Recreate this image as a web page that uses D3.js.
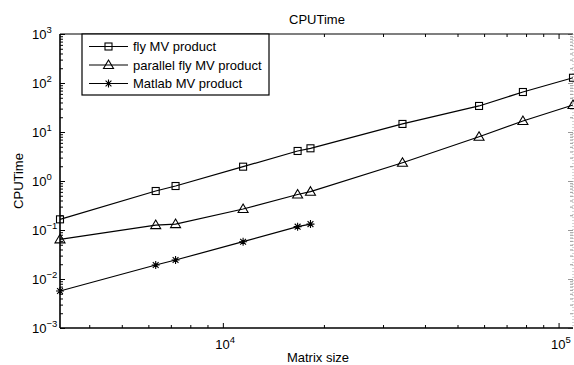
<!DOCTYPE html>
<html lang="en">
<head>
<meta charset="utf-8">
<title>CPUTime</title>
<script src="https://d3js.org/d3.v7.min.js"></script>
<style>
  body { margin: 0; background: #fff; }
  text { font-family: "Liberation Sans", Arial, sans-serif; fill: #000; }
</style>
</head>
<body>
<script>
// matrix sizes (shared by all series)
var sizes = [3273, 6310, 7230, 11490, 16700, 18240, 34280, 57960, 78300, 110400];
var flyTime = [0.165, 0.625, 0.79, 1.96, 4.1, 4.65, 14.6, 34, 65.5, 128];
var parallelTime = [0.0645, 0.126, 0.132, 0.268, 0.53, 0.605, 2.36, 8.0, 16.8, 35.6];
var matlabTime = [0.00569, 0.0193, 0.0244, 0.0577, 0.117, 0.132];
var seriesNames = ["fly MV product", "parallel fly MV product", "Matlab MV product"];
var yTickExp = [-3, -2, -1, 0, 1, 2, 3];
var xTickExp = [4, 5];

var w = 574, h = 365;
var pl = 60, pr = 573, pt = 34, pb = 328;

var svg = d3.select("body").append("svg")
  .attr("width", w).attr("height", h);

var x = d3.scaleLog().domain([3273, 110400]).range([pl, pr]);
var y = d3.scaleLog().domain([1e-3, 1e3]).range([pb, pt]);

// minor tick values
var xMinor = [], yMinor = [];
for (var e = 3; e <= 5; e++) for (var k = 2; k <= 9; k++) {
  var v = k * Math.pow(10, e);
  if (v > 3273 && v < 110400) xMinor.push(v);
}
for (var e2 = -3; e2 < 3; e2++) for (var k2 = 2; k2 <= 9; k2++) yMinor.push(k2 * Math.pow(10, e2));
var xMajor = xTickExp.map(function(d){ return Math.pow(10, d); });
var yMajor = yTickExp.map(function(d){ return Math.pow(10, d); });

function tickAxis(axisFn, scale, vals, size, tr, col) {
  var g = svg.append("g").attr("transform", tr)
    .call(axisFn(scale).tickValues(vals).tickSize(size).tickFormat(""));
  g.select(".domain").remove();
  g.selectAll("line").attr("stroke", col || "#000").attr("stroke-width", 1);
  return g;
}
// bottom / top
tickAxis(d3.axisBottom, x, xMajor, -5, "translate(0," + pb + ")");
tickAxis(d3.axisBottom, x, xMinor, -3, "translate(0," + pb + ")");
tickAxis(d3.axisTop, x, xMajor, -5, "translate(0," + pt + ")");
tickAxis(d3.axisTop, x, xMinor, -3, "translate(0," + pt + ")");
// left / right
tickAxis(d3.axisLeft, y, yMajor, -5, "translate(" + pl + ",0)");
tickAxis(d3.axisLeft, y, yMinor, -3, "translate(" + pl + ",0)");
tickAxis(d3.axisRight, y, yMajor, -5, "translate(" + pr + ",0)", "#999");
tickAxis(d3.axisRight, y, yMinor, -3, "translate(" + pr + ",0)", "#999");

// frame
svg.append("line").attr("x1", pl).attr("x2", pr).attr("y1", pb).attr("y2", pb)
  .attr("stroke", "#000").attr("stroke-width", 1.6);
svg.append("line").attr("x1", pl).attr("x2", pl).attr("y1", pt).attr("y2", pb)
  .attr("stroke", "#000").attr("stroke-width", 1.6);
svg.append("line").attr("x1", pl).attr("x2", pr).attr("y1", pt).attr("y2", pt)
  .attr("stroke", "#000").attr("stroke-width", 1.2);
svg.append("line").attr("x1", pr).attr("x2", pr).attr("y1", pt).attr("y2", pb)
  .attr("stroke", "#aaa").attr("stroke-width", 1).attr("stroke-dasharray", "1,2");

// tick labels
yTickExp.forEach(function(p) {
  var t = svg.append("text").attr("x", 32).attr("y", y(Math.pow(10, p)) + 5)
    .style("font-size", "13px");
  t.append("tspan").text("10");
  t.append("tspan").attr("dy", -6.5).style("font-size", "9.5px").text(String(p).replace("-", "\u2212"));
});
xTickExp.forEach(function(p) {
  var t = svg.append("text").attr("x", x(Math.pow(10, p)) - 7.5).attr("y", 349)
    .style("font-size", "13px");
  t.append("tspan").text("10");
  t.append("tspan").attr("dy", -6.5).style("font-size", "9.5px").text(p);
});

// titles
svg.append("text").attr("x", 317).attr("y", 24).attr("text-anchor", "middle")
  .style("font-size", "13px").text("CPUTime");
svg.append("text").attr("x", 318).attr("y", 362).attr("text-anchor", "middle")
  .style("font-size", "13px").text("Matrix size");
svg.append("text").attr("transform", "translate(23,181) rotate(-90)").attr("text-anchor", "middle")
  .style("font-size", "13px").text("CPUTime");

// markers
function drawMarker(g, type, cx, cy) {
  if (type === 0) {
    g.append("rect").attr("x", cx - 3.5).attr("y", cy - 3.5).attr("width", 7).attr("height", 7)
      .attr("fill", "none").attr("stroke", "#000").attr("stroke-width", 1.1);
  } else if (type === 1) {
    g.append("path").attr("d", "M" + cx + "," + (cy - 5) + "L" + (cx + 5) + "," + (cy + 3.5) + "L" + (cx - 5) + "," + (cy + 3.5) + "Z")
      .attr("fill", "none").attr("stroke", "#000").attr("stroke-width", 1.1);
  } else {
    var r = 4, r2 = 2.9;
    g.append("path").attr("d",
      "M" + (cx - r) + "," + cy + "L" + (cx + r) + "," + cy +
      "M" + cx + "," + (cy - r) + "L" + cx + "," + (cy + r) +
      "M" + (cx - r2) + "," + (cy - r2) + "L" + (cx + r2) + "," + (cy + r2) +
      "M" + (cx - r2) + "," + (cy + r2) + "L" + (cx + r2) + "," + (cy - r2))
      .attr("stroke", "#000").attr("stroke-width", 1.1);
  }
}

var allSeries = [flyTime, parallelTime, matlabTime];
var line = d3.line().x(function(d){ return x(d[0]); }).y(function(d){ return y(d[1]); });

allSeries.forEach(function(vals, si) {
  var pts = vals.map(function(v, i){ return [sizes[i], v]; });
  var g = svg.append("g");
  g.append("path").attr("d", line(pts)).attr("fill", "none")
    .attr("stroke", "#000").attr("stroke-width", 1.2);
  pts.forEach(function(p){ drawMarker(g, si, x(p[0]), y(p[1])); });
});

// legend
var lg = svg.append("g");
lg.append("rect").attr("x", 82).attr("y", 34).attr("width", 187).attr("height", 61)
  .attr("fill", "#fff").attr("stroke", "#000").attr("stroke-width", 1.2);
seriesNames.forEach(function(name, i) {
  var ly = 46.5 + i * 18.5;
  lg.append("line").attr("x1", 89).attr("x2", 128).attr("y1", ly).attr("y2", ly)
    .attr("stroke", "#000").attr("stroke-width", 1.2);
  drawMarker(lg, i, 108.5, ly);
  lg.append("text").attr("x", 133).attr("y", ly + 4.5).style("font-size", "13px").text(name);
});
</script>
</body>
</html>
